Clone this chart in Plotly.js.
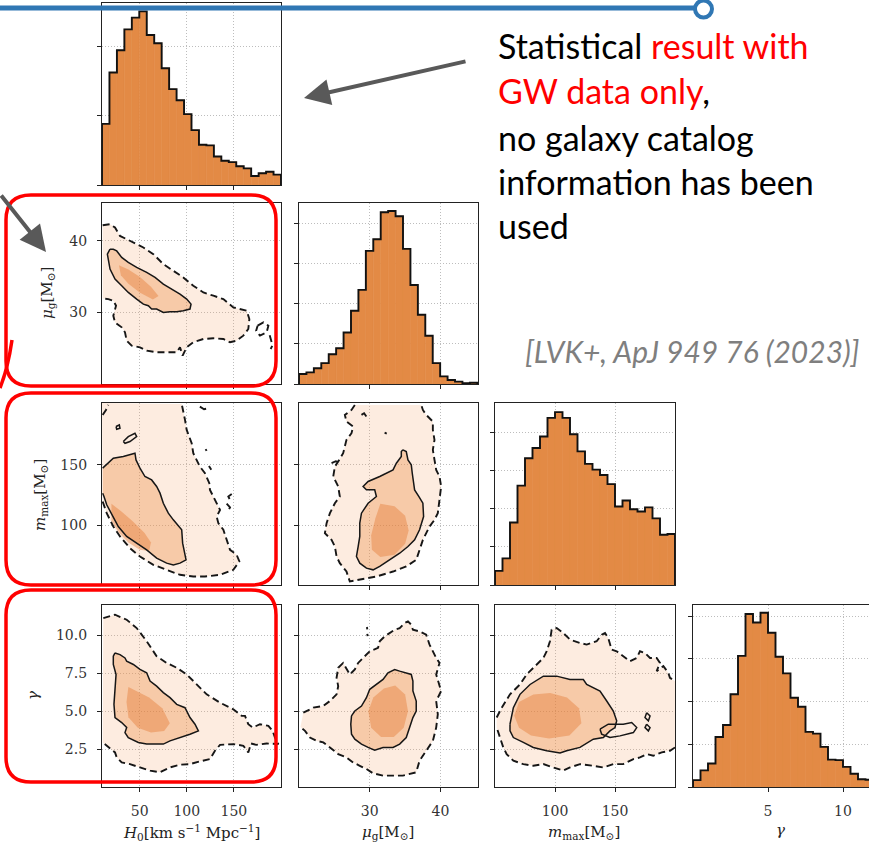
<!DOCTYPE html>
<html>
<head>
<meta charset="utf-8">
<script src="https://cdn.plot.ly/plotly-3.0.1.min.js"></script>
<style>html,body{margin:0;padding:0;background:#fff;}#chart{width:869px;height:844px;}</style>
</head>
<body>
<div id="chart"></div>
<script>
// ---------------- DATA ----------------
// 1-D marginal histograms (24 equal bins over the given range), heights in tick units
const h0HistRange = [10, 200];
const h0Hist = [0.88,1.62,1.94,2.24,2.41,2.50,2.16,2.04,1.68,1.38,1.22,1.02,0.79,0.58,0.57,0.41,0.35,0.33,0.27,0.24,0.13,0.17,0.19,0.15];
const muHistRange = [20, 45.2];
const muHist = [0.25,0.29,0.39,0.52,0.74,0.89,1.28,1.82,2.34,3.31,3.60,4.27,4.30,4.17,3.36,2.46,1.72,1.20,0.52,0.19,0.10,0.06,0.02,0.03];
const mmaxHistRange = [50, 200];
const mmaxHist = [0.37,0.70,1.64,2.61,3.33,3.60,3.90,4.39,4.54,4.39,3.96,3.51,3.18,3.03,2.89,2.65,2.06,2.22,1.99,1.93,2.04,1.75,1.32,1.34];
const gammaHistRange = [0, 12];
const gammaHist = [0.16,0.39,0.55,1.17,1.45,2.17,3.07,4.05,3.85,4.08,3.61,3.05,2.66,2.09,1.88,1.29,1.25,0.94,0.64,0.63,0.47,0.31,0.18,0.17];

// tick values / labels
const h0Ticks = [50, 100, 150];
const muTicks = [30, 40];
const mmaxTicks = [100, 150];
const gammaXTicks = [5, 10];
const gammaYTicks = [2.5, 5, 7.5, 10];
const gammaYLabels = ['2.5', '5.0', '7.5', '10.0'];

// H0 vs mu_g
const h0MuSolidX = [18.5,15.7,18.5,23.8,30.9,37.9,46.8,53.9,59.2,62.7,68.0,75.1,82.2,89.3,96.3,103.4,104.5,99.9,92.8,84.0,75.1,66.3,57.4,46.8,37.9,30.9,25.6,22.0,18.5];
const h0MuSolidY = [38.84,38.15,36.06,34.66,33.73,32.8,31.87,31.17,30.94,30.48,30.48,30.0,30.1,30.1,30.24,30.48,31.17,31.87,32.57,33.27,33.96,34.9,35.6,36.3,37.0,37.7,38.6,38.84,38.84];
const h0MuDashX = [10.7,18.5,23.8,29.1,36.2,43.3,53.9,64.5,75.1,85.7,96.3,106.9,117.6,128.2,138.8,149.4,163.6,166.4,165.3,160.0,152.9,145.9,138.8,128.2,117.6,106.9,99.9,95.6,92.8,89.3,78.6,68.0,57.4,50.3,41.5,36.2,34.4,30.9,23.8,22.0,24.9,22.0,16.7,10.7];
const h0MuDashY = [42.19,42.33,41.87,40.7,40.24,39.77,39.08,38.15,36.75,35.82,34.9,33.73,32.8,32.34,31.87,30.71,30.24,29.08,27.69,26.76,26.06,25.83,26.29,26.39,26.29,25.83,25.13,23.97,25.13,24.43,24.43,24.43,24.66,25.13,25.36,26.06,27.22,27.92,28.62,29.55,30.94,31.64,31.87,31.96];
const h0MuIslandX = [175.2,181.3,186.6,184.8,177.7,173.6,175.2,null,188.0,191.0,189.0];
const h0MuIslandY = [28.15,28.62,28.15,27.22,26.76,27.45,28.15,null,26.8,25.4,24.9];
const h0MuCoreX = [28,38,50,62,70,64,50,38,30,28];
const h0MuCoreY = [36.6,36.0,35.0,33.6,32.3,31.8,32.8,34.0,35.2,36.6];

// H0 vs m_max
const h0MmaxSolidX = [10.7,22.0,32.6,39.7,45.0,46.1,50.3,55.6,62.7,68.0,71.6,75.1,80.4,85.7,94.6,95.6,99.2,92.8,85.7,78.6,68.0,57.4,46.8,36.2,27.3,20.3,15.0,12.1,10.7];
const h0MmaxSolidY = [147.3,155.5,156.9,158.2,159.6,154.1,147.3,140.4,137.6,132.2,126.7,118.4,110.2,104.7,96.5,85.5,71.7,69.0,67.6,69.0,73.1,80.0,85.5,91.0,99.2,108.8,117.1,123.9,126.7];
const h0MmaxIslandX = [32.6,37.9,45.0,46.8,39.7,34.4,32.6,null,24.9,28.4,29.1,25.6,24.9];
const h0MmaxIslandY = [169.2,173.3,176.1,173.3,169.2,167.8,169.2,null,181.6,182.9,180.2,179.4,181.6];
const h0MmaxDashX = [10.7,15.0,22.0,29.1,39.7,50.3,64.5,78.6,92.8,106.9,119.3,135.3,149.4,155.8,152.9,145.9,142.3,138.8,133.5,131.7,135.3,131.7,128.2,124.6,123.9,119.3,113.9,110.5,106.9,105.2,99.9,98.1,96.3,94.6];
const h0MmaxDashY = [119.8,110.2,99.2,91.0,81.4,74.5,67.6,63.5,59.4,58.0,58.0,59.4,63.5,70.4,75.9,80.0,88.2,96.5,102.0,107.4,112.9,118.4,123.9,129.4,134.9,143.1,148.6,154.1,159.6,167.8,178.8,187.1,195.3,200.2];
const h0MmaxBitsX = [10.7,14.2,16.7,null,113.9,118.3,122.9,null,120.0,121.0,null,123.5,124.6,126.0,null,147.7,144.1,146.0,null,142.3,145.9,144.0];
const h0MmaxBitsY = [191.2,195.3,199.4,null,198.0,195.9,196.7,null,163.0,161.5,null,149.0,147.3,146.0,null,126.0,124.0,121.0,null,118.0,115.0,112.0];
const h0MmaxCoreX = [20,30,42,55,62,60,50,38,28,20,20];
const h0MmaxCoreY = [118,112,104,94,86,79,80,86,94,104,118];

// H0 vs gamma
const h0GamSolidX = [23.8,29.1,34.4,36.2,43.3,50.3,57.4,61.0,68.0,75.1,82.2,89.3,98.1,103.4,108.7,112.3,103.4,92.8,82.2,75.1,68.0,57.4,48.6,37.9,34.4,36.2,30.9,23.8,22.7,23.8,24.9,22.0,22.0,23.8];
const h0GamSolidY = [8.84,8.73,8.51,8.29,8.08,7.75,7.53,6.98,6.65,6.22,5.89,5.45,5.23,4.58,4.14,3.70,3.48,3.26,3.04,2.83,2.83,2.83,2.94,3.26,3.59,3.92,4.25,4.58,5.45,6.54,7.42,8.08,8.62,8.84];
const h0GamDashX = [11.4,23.8,36.2,46.8,57.4,68.0,78.6,89.3,99.9,110.5,121.1,135.3,149.4,158.3,161.8,165.3,170.0,177.7,186.6,191.1,193.6,197.2,184.8,173.6,168.2,165.3,160.0,149.4,135.3,129.9,124.6,113.9,103.4,92.8,82.2,71.6,61.0,50.3,39.7,30.9,25.6,23.8,16.7,10.7];
const h0GamDashY = [11.14,11.36,11.03,10.48,9.61,8.62,8.18,7.86,7.42,6.76,6.11,5.56,5.12,4.69,4.69,4.14,3.92,4.14,4.03,3.70,3.26,2.83,2.87,2.78,2.87,2.28,2.72,2.83,2.78,2.39,1.84,1.69,1.51,1.47,1.29,0.97,1.08,1.29,1.51,1.62,1.95,2.28,2.61,2.94];
const h0GamCoreX = [38,48,60,74,82,76,62,48,38,36,38];
const h0GamCoreY = [6.6,6.3,5.9,5.2,4.2,3.7,3.6,3.9,4.6,5.6,6.6];

// mu_g vs m_max
const muMmaxSolidX = [34.69,35.16,35.40,35.87,36.01,36.10,36.34,36.95,37.51,37.61,37.04,36.34,35.40,34.23,32.82,31.41,30.47,29.53,28.59,28.12,28.36,28.59,28.59,28.83,29.77,30.94,30.70,29.53,29.06,29.77,31.41,32.35,33.29,33.76,34.46,34.46,34.69];
const muMmaxSolidY = [162.4,161.0,154.1,150,143.1,137.6,129.4,123.9,118.4,107.4,96.5,88.2,82.7,77.2,71.7,66.3,63.5,64.9,69.0,74.5,82.7,91.0,102.0,110.2,118.4,123.9,129.4,129.4,132.2,136.3,140.4,143.1,145.9,151.4,156.9,161.0,162.4];
const muMmaxDashX = [27.89,27.42,26.48,26.71,27.65,27.42,26.71,26.24,25.54,25.07,24.84,25.54,25.77,25.07,24.37,23.90,23.66,24.60,25.07,25.31,25.77,26.71,27.18,28.59,30.94,33.29,35.16,36.57,37.04,37.51,38.45,39.15,39.62,39.86,40.09,39.86,39.39,39.15,38.92,39.15,38.92,38.92,37.98,37.51,37.28];
const muMmaxDashY = [199.4,195.3,191.2,185.7,181.6,176.1,170.6,159.6,152.7,148.6,140.4,132.2,123.9,118.4,110.2,102.0,93.7,88.2,82.7,74.5,69.0,62.1,53.9,55.3,58.0,62.1,66.3,71.7,80.0,88.2,99.2,104.7,110.2,123.9,132.2,140.4,145.9,154.1,162.4,170.6,178.8,185.7,191.2,195.3,199.4];
const muMmaxBitsX = [32.1,32.4,null,24.6,25.2,25.8,null,28.83,29.2,29.53];
const muMmaxBitsY = [176.5,175.7,null,151.5,153.0,152.0,null,191.2,192.5,189.8];
const muMmaxCoreX = [31.5,33.5,35.0,35.5,35.0,33.5,31.5,30.3,30.2,30.8,31.5];
const muMmaxCoreY = [118,116,108,96,85,76,74,80,92,106,118];

// mu_g vs gamma
const muGamSolidX = [27.42,27.89,28.83,29.53,30.0,30.94,31.88,32.58,33.52,34.23,35.16,35.87,36.10,36.10,36.57,36.57,36.10,35.63,35.16,34.23,33.29,31.88,30.70,29.77,28.83,27.89,27.42,27.32,27.42];
const muGamSolidY = [4.69,5.01,5.34,5.89,6.44,6.76,7.09,7.53,7.75,7.64,7.53,7.42,6.98,6.33,5.67,5.01,4.58,3.92,3.26,2.83,2.61,2.61,2.43,2.61,2.83,3.15,3.48,4.14,4.69];
const muGamDashX = [20.61,22.02,23.43,24.37,25.31,25.54,25.31,25.54,26.24,26.71,27.18,27.89,28.36,29.06,29.53,30.0,31.17,31.41,32.11,32.82,33.52,34.23,34.93,35.40,35.87,36.10,37.04,37.98,38.45,39.39,39.86,39.39,39.86,40.09,39.39,39.62,39.39,38.92,37.98,37.04,36.57,35.63,34.69,33.29,31.88,30.47,29.53,28.59,27.65,26.71,25.54,24.37,23.43,22.49,21.55,20.85,20.2];
const muGamDashY = [4.90,5.23,5.34,5.67,6.11,6.65,7.20,7.86,8.18,7.75,7.42,7.75,8.18,8.51,8.73,8.95,9.17,9.61,9.93,10.15,10.37,10.48,10.81,10.92,10.70,10.37,10.26,10.04,9.39,8.51,8.18,7.42,6.76,6.33,5.67,4.79,3.92,3.04,2.39,1.73,0.97,0.86,0.75,0.75,0.75,0.90,1.19,1.40,1.62,1.95,2.17,2.61,2.94,3.04,3.26,3.70,3.95];
const muGamBitsX = [29.6,29.65,null,29.65,29.7];
const muGamBitsY = [10.55,10.4,null,10.1,9.95];
const muGamCoreX = [30.5,32.0,33.6,35.0,35.4,34.8,33.4,31.6,30.2,29.8,30.5];
const muGamCoreY = [5.9,6.5,6.7,6.1,5.0,3.9,3.3,3.3,3.9,5.0,5.9];

// m_max vs gamma
const mmaxGamSolidX = [62.5,65.3,70.8,79.2,90.3,101.4,112.5,123.6,126.4,131.9,137.5,143.1,148.6,151.4,150,145.8,143.1,140.3,131.9,120.8,109.7,104.2,93.1,81.9,73.6,65.3,62.5,62.5];
const mmaxGamSolidY = [4.14,5.23,6.11,6.76,7.31,7.31,7.09,7.09,6.76,6.54,6.33,5.67,5.01,4.36,3.92,3.70,3.48,3.26,3.15,2.61,2.39,2.24,2.39,2.61,2.94,3.26,3.70,4.14];
const mmaxGamIslandX = [137.5,144.4,156.9,163.9,168.1,165.3,154.2,145.8,138.9,137.5,null,176.4,179.2,177.8,175.0,176.4,null,176.4,179.2,177.8,175.0,176.4];
const mmaxGamIslandY = [3.81,4.14,4.14,4.25,3.92,3.59,3.37,3.26,3.48,3.81,null,4.90,4.69,4.36,4.58,4.90,null,4.14,3.92,3.70,3.92,4.14];
const mmaxGamDashUpX = [51.4,55.6,62.5,70.8,76.4,81.9,90.3,93.1,95.8,97.2,101.4,106.9,112.5,120.8,126.4,134.7,138.9,141.7,144.4,147.2,151.4,156.9,162.5,168.1,170.8,175,179.2,184.7,187.5,184.7,190.3,194.4,195.8,200];
const mmaxGamDashUpY = [4.58,5.23,6.11,6.76,7.42,7.86,8.51,8.95,9.61,10.37,10.48,10.15,9.72,9.50,9.39,9.61,10.04,10.15,9.82,9.06,8.95,8.62,8.29,8.51,8.95,8.84,8.51,8.51,8.18,7.64,7.97,7.53,7.20,6.98];
const mmaxGamDashLoX = [200,195.8,188.9,181.9,176.4,170.8,165.3,156.9,148.6,140.3,131.9,120.8,112.5,106.9,98.6,90.3,81.9,73.6,65.3,59.7,56.9,54.2,51.4];
const mmaxGamDashLoY = [2.61,2.39,2.28,2.06,2.17,1.95,1.84,1.51,1.51,1.29,1.40,1.51,1.29,1.08,1.29,1.51,1.40,1.51,1.73,2.17,2.61,3.26,3.92];
const mmaxGamCoreX = [70,82,96,110,120,122,112,95,80,70,66,70];
const mmaxGamCoreY = [5.6,6.1,6.2,5.9,5.2,4.2,3.4,3.2,3.4,3.9,4.7,5.6];

// ---------------- LAYOUT / DRAWING ----------------
const W = 869, H = 844;
const PX = px => px / W, PY = py => 1 - py / H;
const colPx = [[102, 281], [299, 478], [495, 675], [693, 869]];
const rowPx = [[3, 185], [203, 384], [403, 585], [605, 787]];
const fullGammaRightPx = 873; // axis would end here, picture is cut at 869

const H0_R = [10, 200], MU_R = [20, 45.3], MMAX_XR = [50, 200], MMAX_YR = [51, 201], GAM_R = [0, 12];
const GAM_XR = [0, 12 * (colPx[3][1] - colPx[3][0]) / (fullGammaRightPx - colPx[3][0])];

const ORANGE = '#e38a45';
const FILL_OUT = 'rgba(243,160,100,0.20)';
const FILL_IN = 'rgba(236,140,70,0.36)';
const FILL_CORE = 'rgba(226,112,40,0.38)';
const SERIF = 'DejaVu Serif, serif';

const traces = [];
const layout = {
  width: W, height: H, margin: {l: 0, r: 0, t: 0, b: 0},
  paper_bgcolor: '#ffffff', plot_bgcolor: '#ffffff', showlegend: false,
  bargap: 0, shapes: [], annotations: []
};

function axBase() {
  return {
    showline: true, linecolor: '#222', linewidth: 1.1, mirror: true,
    ticks: 'outside', ticklen: 4, tickwidth: 1, tickcolor: '#222',
    showgrid: true, gridcolor: '#bdbdbd', griddash: '1px,2px', gridwidth: 1,
    zeroline: false, fixedrange: true, ticklabelstandoff: 7,
    tickfont: {family: SERIF, size: 14, color: '#333'}
  };
}

let nAx = 0;
function panel(r, c, xr, yr, xt, yt, ytxt) {
  nAx++;
  const s = nAx === 1 ? '' : String(nAx);
  layout['xaxis' + s] = Object.assign(axBase(), {
    domain: [PX(colPx[c][0]), PX(colPx[c][1])], range: xr, anchor: 'y' + s,
    tickmode: 'array', tickvals: xt, ticktext: xt.map(String), showticklabels: r === 3
  });
  layout['yaxis' + s] = Object.assign(axBase(), {
    domain: [PY(rowPx[r][1]), PY(rowPx[r][0])], range: yr, anchor: 'x' + s,
    tickmode: 'array', tickvals: yt, ticktext: ytxt || yt.map(String), showticklabels: c === 0 && r > 0
  });
  return {x: 'x' + s, y: 'y' + s, ya: 'yaxis' + s};
}

function hist(ax, vals, rng) {
  const n = vals.length, w = (rng[1] - rng[0]) / n;
  const centers = vals.map((_, i) => rng[0] + (i + 0.5) * w);
  traces.push({type: 'bar', x: centers, y: vals, width: w, xaxis: ax.x, yaxis: ax.y,
    marker: {color: ORANGE, line: {color: ORANGE, width: 0.6}}});
  const sx = [rng[0]], sy = [0];
  vals.forEach((v, i) => { sx.push(rng[0] + i * w); sy.push(v); });
  sx.push(rng[1]); sy.push(vals[n - 1]); sx.push(rng[1]); sy.push(0);
  traces.push({type: 'scatter', mode: 'lines', x: sx, y: sy, xaxis: ax.x, yaxis: ax.y,
    line: {shape: 'hv', color: '#111', width: 1.9}});
}
function fillPoly(ax, xs, ys, color) {
  traces.push({type: 'scatter', mode: 'lines', x: xs, y: ys, fill: 'toself', fillcolor: color,
    line: {width: 0, color: 'rgba(0,0,0,0)'}, xaxis: ax.x, yaxis: ax.y});
}
function solid(ax, xs, ys) {
  traces.push({type: 'scatter', mode: 'lines', x: xs, y: ys, connectgaps: false,
    line: {color: '#161616', width: 1.5}, xaxis: ax.x, yaxis: ax.y});
}
function dashed(ax, xs, ys) {
  traces.push({type: 'scatter', mode: 'lines', x: xs, y: ys, connectgaps: false,
    line: {color: '#161616', width: 1.9, dash: '7px,4px'}, xaxis: ax.x, yaxis: ax.y});
}
function pair(ax, d) {
  fillPoly(ax, d.fx, d.fy, FILL_OUT);
  fillPoly(ax, d.sx, d.sy, FILL_IN);
  fillPoly(ax, d.cx, d.cy, FILL_CORE);
  (d.dash || []).forEach(p => dashed(ax, p[0], p[1]));
  (d.solid || []).forEach(p => solid(ax, p[0], p[1]));
}

const histTicks = n => Array.from({length: n}, (_, i) => i);

// row 0
const a1 = panel(0, 0, H0_R, [0, 2.62], h0Ticks, histTicks(3));
hist(a1, h0Hist, h0HistRange);
// row 1
const a2 = panel(1, 0, H0_R, MU_R, h0Ticks, muTicks);
pair(a2, {fx: h0MuDashX, fy: h0MuDashY, sx: h0MuSolidX, sy: h0MuSolidY, cx: h0MuCoreX, cy: h0MuCoreY,
  dash: [[h0MuDashX, h0MuDashY], [h0MuIslandX, h0MuIslandY]], solid: [[h0MuSolidX, h0MuSolidY]]});
const a3 = panel(1, 1, MU_R, [0, 4.5], muTicks, histTicks(5));
hist(a3, muHist, muHistRange);
// row 2
const a4 = panel(2, 0, H0_R, MMAX_YR, h0Ticks, mmaxTicks);
pair(a4, {fx: h0MmaxDashX.concat([H0_R[0]]), fy: h0MmaxDashY.concat([MMAX_YR[1]]),
  sx: h0MmaxSolidX, sy: h0MmaxSolidY, cx: h0MmaxCoreX, cy: h0MmaxCoreY,
  dash: [[h0MmaxDashX, h0MmaxDashY], [h0MmaxBitsX, h0MmaxBitsY]],
  solid: [[h0MmaxSolidX, h0MmaxSolidY], [h0MmaxIslandX, h0MmaxIslandY]]});
const a5 = panel(2, 1, MU_R, MMAX_YR, muTicks, mmaxTicks);
pair(a5, {fx: muMmaxDashX, fy: muMmaxDashY, sx: muMmaxSolidX, sy: muMmaxSolidY, cx: muMmaxCoreX, cy: muMmaxCoreY,
  dash: [[muMmaxDashX, muMmaxDashY], [muMmaxBitsX, muMmaxBitsY]], solid: [[muMmaxSolidX, muMmaxSolidY]]});
const a6 = panel(2, 2, MMAX_XR, [0, 4.78], mmaxTicks, histTicks(5));
hist(a6, mmaxHist, mmaxHistRange);
// row 3
const a7 = panel(3, 0, H0_R, GAM_R, h0Ticks, gammaYTicks, gammaYLabels);
pair(a7, {fx: h0GamDashX, fy: h0GamDashY, sx: h0GamSolidX, sy: h0GamSolidY, cx: h0GamCoreX, cy: h0GamCoreY,
  dash: [[h0GamDashX, h0GamDashY]], solid: [[h0GamSolidX, h0GamSolidY]]});
const a8 = panel(3, 1, MU_R, GAM_R, muTicks, gammaYTicks, gammaYLabels);
pair(a8, {fx: muGamDashX, fy: muGamDashY, sx: muGamSolidX, sy: muGamSolidY, cx: muGamCoreX, cy: muGamCoreY,
  dash: [[muGamDashX, muGamDashY], [muGamBitsX, muGamBitsY]], solid: [[muGamSolidX, muGamSolidY]]});
const a9 = panel(3, 2, MMAX_XR, GAM_R, mmaxTicks, gammaYTicks, gammaYLabels);
pair(a9, {fx: mmaxGamDashUpX.concat(mmaxGamDashLoX), fy: mmaxGamDashUpY.concat(mmaxGamDashLoY),
  sx: mmaxGamSolidX, sy: mmaxGamSolidY, cx: mmaxGamCoreX, cy: mmaxGamCoreY,
  dash: [[mmaxGamDashUpX, mmaxGamDashUpY], [mmaxGamDashLoX, mmaxGamDashLoY]],
  solid: [[mmaxGamSolidX, mmaxGamSolidY], [mmaxGamIslandX, mmaxGamIslandY]]});
const a10 = panel(3, 3, GAM_XR, [0, 4.26], gammaXTicks, histTicks(5));
hist(a10, gammaHist, gammaHistRange);
layout[a10.ya].mirror = false;

// ---------- axis titles (as annotations) ----------
const tf = {family: SERIF, size: 15, color: '#222'};
const ann = (x, y, text, extra) => layout.annotations.push(Object.assign({
  xref: 'paper', yref: 'paper', x: PX(x), y: PY(y), text, showarrow: false,
  xanchor: 'center', yanchor: 'middle', font: tf}, extra || {}));
ann(191, 832, '<i>H</i><sub>0</sub>[km s<sup>−1</sup> Mpc<sup>−1</sup>]');
ann(388, 832, '<i>μ</i><sub>g</sub>[M<sub>⊙</sub>]');
ann(584, 832, '<i>m</i><sub>max</sub>[M<sub>⊙</sub>]');
ann(780, 830, '<i>γ</i>');
ann(48, 293, '<i>μ</i><sub>g</sub>[M<sub>⊙</sub>]', {textangle: -90});
ann(40, 495, '<i>m</i><sub>max</sub>[M<sub>⊙</sub>]', {textangle: -90});
ann(33, 696, '<i>γ</i>', {textangle: -90});

// ---------- slide decorations ----------
const noteFont = {family: 'Lato, Open Sans, sans-serif', size: 34, color: '#000'};
const noteLines = [
  'Statistical <span style="color:#ff0000">result with</span>',
  '<span style="color:#ff0000">GW data only</span>,',
  'no galaxy catalog',
  'information has been',
  'used'
];
const noteY = [45, 90, 137, 181, 225];
noteLines.forEach((t, i) => ann(496, noteY[i], t, {xanchor: 'left', font: noteFont}));
ann(523, 351, '<i>[LVK+, ApJ 949 76 (2023)]</i>', {xanchor: 'left',
  font: {family: 'Lato, Open Sans, sans-serif', size: 30, color: '#7f7f7f'}});

// arrows
const arrow = (tipX, tipY, tailX, tailY) => layout.annotations.push({
  xref: 'paper', yref: 'paper', x: PX(tipX), y: PY(tipY), ax: tailX - tipX, ay: tailY - tipY,
  axref: 'pixel', ayref: 'pixel', text: '', showarrow: true, arrowhead: 2, arrowsize: 1.3,
  arrowwidth: 4, arrowcolor: '#595959', standoff: 0, startstandoff: 0});
arrow(304, 98, 467, 61);
arrow(46, 252, 0, 194);

// red rounded boxes
function rrect(x0, y0, x1, y1, r) {
  const p = (x, y) => PX(x) + ',' + PY(y);
  return 'M' + p(x0 + r, y0) + ' L' + p(x1 - r, y0) + ' Q' + p(x1, y0) + ' ' + p(x1, y0 + r) +
    ' L' + p(x1, y1 - r) + ' Q' + p(x1, y1) + ' ' + p(x1 - r, y1) +
    ' L' + p(x0 + r, y1) + ' Q' + p(x0, y1) + ' ' + p(x0, y1 - r) +
    ' L' + p(x0, y0 + r) + ' Q' + p(x0, y0) + ' ' + p(x0 + r, y0) + ' Z';
}
[[6, 195, 276, 386], [6, 393, 276, 585], [6, 590, 276, 782]].forEach(b => layout.shapes.push({
  type: 'path', xref: 'paper', yref: 'paper', path: rrect(b[0], b[1], b[2], b[3], 25),
  line: {color: '#ff0000', width: 3.5}, layer: 'above'}));
layout.shapes.push({type: 'path', xref: 'paper', yref: 'paper', layer: 'above',
  path: 'M' + PX(12) + ',' + PY(340) + ' Q' + PX(8) + ',' + PY(368) + ' ' + PX(0) + ',' + PY(388),
  line: {color: '#ff0000', width: 3.5}});

// blue timeline with circle
layout.shapes.push({type: 'line', xref: 'paper', yref: 'paper', layer: 'above',
  x0: PX(0), x1: PX(694), y0: PY(8), y1: PY(8), line: {color: '#3077b4', width: 5}});
layout.shapes.push({type: 'circle', xref: 'paper', yref: 'paper', layer: 'above',
  x0: PX(695), x1: PX(712), y0: PY(17.5), y1: PY(0.5), fillcolor: '#ffffff',
  line: {color: '#3077b4', width: 4}});

Plotly.newPlot('chart', traces, layout, {staticPlot: true, displayModeBar: false});
</script>
</body>
</html>
